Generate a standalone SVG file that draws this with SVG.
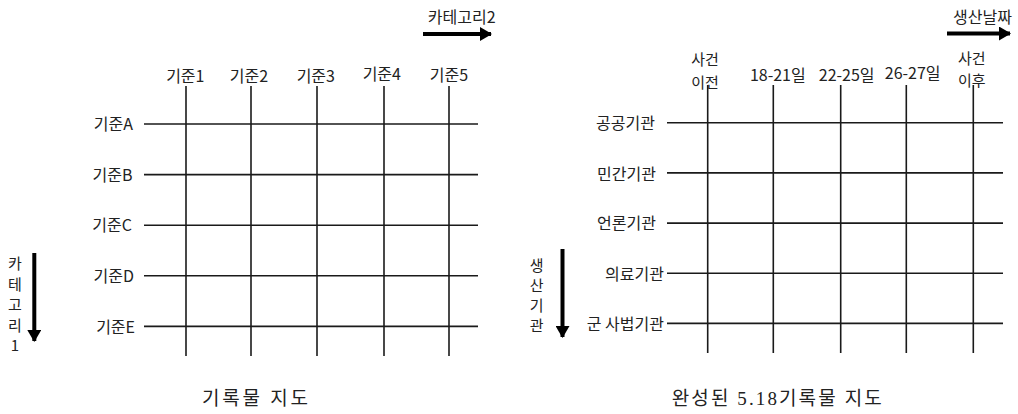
<svg xmlns="http://www.w3.org/2000/svg" width="1018" height="414" viewBox="0 0 1018 414">
  <style>
    .lbl { font-family: "Noto Sans CJK KR", "Liberation Sans", sans-serif; font-size: 16px; fill: #222; dominant-baseline: central; }
    .two { font-size: 15px; }
    .vert { font-family: "Noto Sans CJK KR", "Liberation Sans", sans-serif; font-size: 15px; fill: #222; writing-mode: vertical-rl; text-orientation: upright; }
    .mid { text-anchor: middle; }
    .end { text-anchor: end; }
    .title { font-family: "Liberation Serif", "Noto Sans CJK KR", serif; font-size: 19px; fill: #222; text-anchor: middle; dominant-baseline: central; }
    .grid { stroke: #1a1a1a; stroke-width: 1.6; fill: none; }
    .arrow { stroke: #000; stroke-width: 4; fill: none; }
  </style>
  <defs>
    <marker id="head" markerUnits="userSpaceOnUse" markerWidth="12" markerHeight="14" refX="11" refY="7" orient="auto">
      <path d="M0,0 L12,7 L0,14 Z" fill="#000"/>
    </marker>
  </defs>

  <rect width="1018" height="414" fill="#fff"/>

  <g id="connectors">
    <g id="left-grid" class="grid">
      <line x1="186" y1="86" x2="186" y2="356"/>
      <line x1="251" y1="86" x2="251" y2="356"/>
      <line x1="317" y1="86" x2="317" y2="356"/>
      <line x1="384" y1="86" x2="384" y2="356"/>
      <line x1="449" y1="86" x2="449" y2="356"/>
      <line x1="144" y1="124" x2="478" y2="124"/>
      <line x1="144" y1="174.6" x2="478" y2="174.6"/>
      <line x1="144" y1="225.2" x2="478" y2="225.2"/>
      <line x1="144" y1="275.8" x2="478" y2="275.8"/>
      <line x1="144" y1="326.4" x2="478" y2="326.4"/>
    </g>
    <g id="right-grid" class="grid">
      <line x1="707.7" y1="85" x2="707.7" y2="353"/>
      <line x1="773.3" y1="85" x2="773.3" y2="353"/>
      <line x1="840.7" y1="85" x2="840.7" y2="353"/>
      <line x1="906.3" y1="85" x2="906.3" y2="353"/>
      <line x1="973.3" y1="85" x2="973.3" y2="353"/>
      <line x1="667" y1="122.7" x2="1003" y2="122.7"/>
      <line x1="667" y1="172.9" x2="1003" y2="172.9"/>
      <line x1="667" y1="223.1" x2="1003" y2="223.1"/>
      <line x1="667" y1="273.3" x2="1003" y2="273.3"/>
      <line x1="667" y1="323.4" x2="1003" y2="323.4"/>
    </g>
    <line class="arrow" x1="423" y1="34" x2="491" y2="34" marker-end="url(#head)"/>
    <line class="arrow" x1="947" y1="33.5" x2="1010" y2="33.5" marker-end="url(#head)"/>
    <line class="arrow" x1="34.3" y1="253" x2="34.3" y2="341" marker-end="url(#head)"/>
    <line class="arrow" x1="562.5" y1="249" x2="562.5" y2="337" marker-end="url(#head)"/>
  </g>

  <g id="cat2-label"><text class="lbl mid" x="461.7" y="16">카테고리2</text></g>
  <g id="col-1"><text class="lbl mid" x="185.3" y="75">기준1</text></g>
  <g id="col-2"><text class="lbl mid" x="249" y="75">기준2</text></g>
  <g id="col-3"><text class="lbl mid" x="315.8" y="75">기준3</text></g>
  <g id="col-4"><text class="lbl mid" x="381.8" y="72.5">기준4</text></g>
  <g id="col-5"><text class="lbl mid" x="449" y="73.5">기준5</text></g>
  <g id="row-A"><text class="lbl end" x="133" y="123.3">기준A</text></g>
  <g id="row-B"><text class="lbl end" x="132.5" y="173.5">기준B</text></g>
  <g id="row-C"><text class="lbl end" x="132" y="224">기준C</text></g>
  <g id="row-D"><text class="lbl end" x="134" y="275">기준D</text></g>
  <g id="row-E"><text class="lbl end" x="135" y="326">기준E</text></g>
  <g id="cat1-label">
    <text class="vert" x="15" y="256" letter-spacing="5.5">카테고리1</text>
  </g>
  <g id="left-title"><text class="title" x="255" y="398" textLength="106" lengthAdjust="spacing">기록물 지도</text></g>

  <g id="date-label"><text class="lbl mid" x="982.5" y="16">생산날짜</text></g>
  <g id="col-before">
    <text class="lbl two mid"><tspan x="705" y="58">사건</tspan><tspan x="705" y="81">이전</tspan></text>
  </g>
  <g id="col-18-21"><text class="lbl mid" x="777.8" y="74">18-21일</text></g>
  <g id="col-22-25"><text class="lbl mid" x="846.7" y="74">22-25일</text></g>
  <g id="col-26-27"><text class="lbl mid" x="912.7" y="71.7">26-27일</text></g>
  <g id="col-after">
    <text class="lbl two mid"><tspan x="971.7" y="57">사건</tspan><tspan x="971.7" y="79">이후</tspan></text>
  </g>
  <g id="row-public"><text class="lbl end" x="655" y="122">공공기관</text></g>
  <g id="row-private"><text class="lbl end" x="656" y="172.5">민간기관</text></g>
  <g id="row-press"><text class="lbl end" x="656" y="222">언론기관</text></g>
  <g id="row-medical"><text class="lbl end" x="664" y="273">의료기관</text></g>
  <g id="row-military"><text class="lbl end" x="664" y="323">군 사법기관</text></g>
  <g id="producer-label">
    <text class="vert" x="536.7" y="257.5" letter-spacing="5">생산기관</text>
  </g>
  <g id="right-title"><text class="title" x="776.7" y="398" textLength="210" lengthAdjust="spacing">완성된 5.18기록물 지도</text></g>
</svg>
